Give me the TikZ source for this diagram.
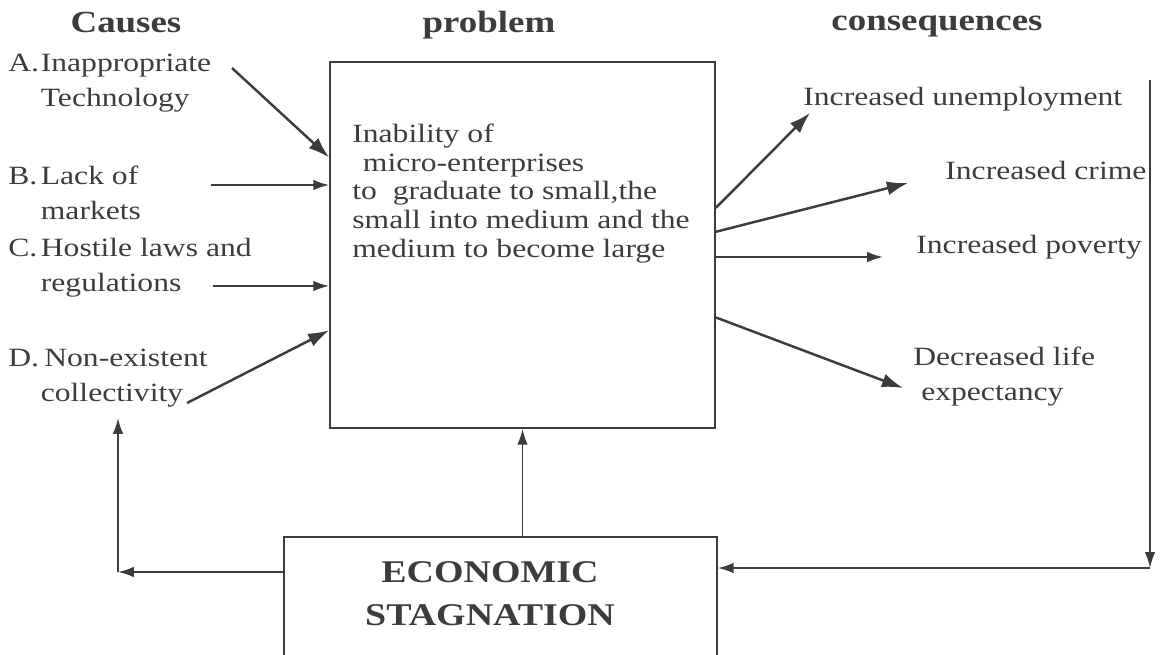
\documentclass[tikz,border=0pt]{standalone}
\usepackage{fontspec}
\setmainfont{Liberation Serif}[FakeStretch=1.2]
\usetikzlibrary{arrows.meta,calc,positioning}
\definecolor{ink}{HTML}{3C3C3C}
\tikzstyle{block} = [draw=ink, line width=1pt, rectangle, inner sep=0pt]
\tikzstyle{heading} = [text=ink, inner sep=0pt, anchor=base, align=center, font=\fontsize{17.5}{24.4}\selectfont\bfseries]
\tikzstyle{cause} = [text=ink, inner sep=0pt, anchor=base west, align=left, font=\fontsize{15}{19.9}\selectfont]
\tikzstyle{effect} = [cause]
\tikzstyle{boxtext} = [cause, font=\fontsize{15}{16.3}\selectfont]
\tikzstyle{link} = [draw=ink, line width=1.4pt, -{Latex[length=12pt,width=8pt]}]
\tikzstyle{flow} = [draw=ink, line width=1.1pt, -{Latex[length=9pt,width=6pt]}]

\begin{document}
\begin{tikzpicture}[x=0.02cm, y=-0.02cm]
\useasboundingbox (0,0) rectangle (1162,654);
\clip (0,0) rectangle (1162,654);

% headings
\node [heading] (causes) at (126,32) {Causes};
\node [heading] (problemhead) at (489,32) {problem};
\node [heading] (conshead) at (937,30) {consequences};

% the two boxes (multi-line texts sit on their last baseline)
\node [block, minimum width=7.7cm, minimum height=7.32cm] (problem) at (522.5,245) {};
\node [boxtext] (problemtext) at (352,257) {Inability of\\\hspace*{0.4em}micro-enterprises\\to\ \ graduate to small,the\\small into medium and the\\medium to become large};
\node [block, minimum width=8.66cm, minimum height=3.4cm] (stagnation) at (500.5,622) {};
\node [heading, font=\fontsize{18}{24.4}\selectfont\bfseries] (stagtext) at (490,625) {ECONOMIC\\STAGNATION};

% causes
\node [cause] (a) at (8,106) {A.\hspace{1pt}Inappropriate\\\phantom{A.\hspace{1pt}}Technology};
\node [cause] (b) at (8,219) {B.\hspace{2pt}Lack of\\\phantom{B.\hspace{2pt}}markets};
\node [cause] (c) at (8,291) {C.\hspace{2pt}Hostile laws and\\\phantom{C.\hspace{2pt}}regulations};
\node [cause] (d) at (8,401) {D.\hspace{3pt}Non-existent\\\phantom{D.\hspace{1pt}}collectivity};

% consequences
\node [effect] (unemp) at (803,105) {Increased unemployment};
\node [effect] (crime) at (945,179) {Increased crime};
\node [effect] (poverty) at (916,253) {Increased poverty};
\node [effect] (life) at (913,400) {Decreased life\\\hspace*{0.3em}expectancy};

% arrows into the problem
\coordinate (a tail) at (232,68);
\coordinate (b tail) at (211,185);
\coordinate (c tail) at (213,286);
\coordinate (d tail) at (187,403);
\draw [link] (a tail) -- ($(problem.north west)!0.262!(problem.south west)$);
\draw [flow] (b tail) -- (b tail -| problem.west);
\draw [flow] (c tail) -- (c tail -| problem.west);
\draw [link] (d tail) -- ($(problem.north west)!0.732!(problem.south west)$);

% arrows out of the problem
\coordinate (unemp tip) at (810,113);
\coordinate (crime tip) at (908,183);
\coordinate (poverty tip) at (883,257);
\coordinate (life tip) at (903,388);
\draw [link] ($(problem.north east)!0.399!(problem.south east)$) -- (unemp tip);
\draw [link] ($(problem.north east)!0.464!(problem.south east)$) -- (crime tip);
\draw [flow] (problem.east |- poverty tip) -- (poverty tip);
\draw [link] ($(problem.north east)!0.697!(problem.south east)$) -- (life tip);

% feedback loops
\coordinate (fb top) at (1150,80);
\coordinate (fb right) at (1150,568);
\coordinate (fb left) at (118,572);
\coordinate (fb up) at (118,418);
\draw [flow] (fb top) -- (fb right);
\draw [flow] (fb right) -- (fb right -| stagnation.east);
\draw [flow] (stagnation.north -| problem.south) -- (problem.south);
\draw [flow] (stagnation.west |- fb left) -- (fb left);
\draw [flow] (fb left) -- (fb up);
\end{tikzpicture}
\end{document}
